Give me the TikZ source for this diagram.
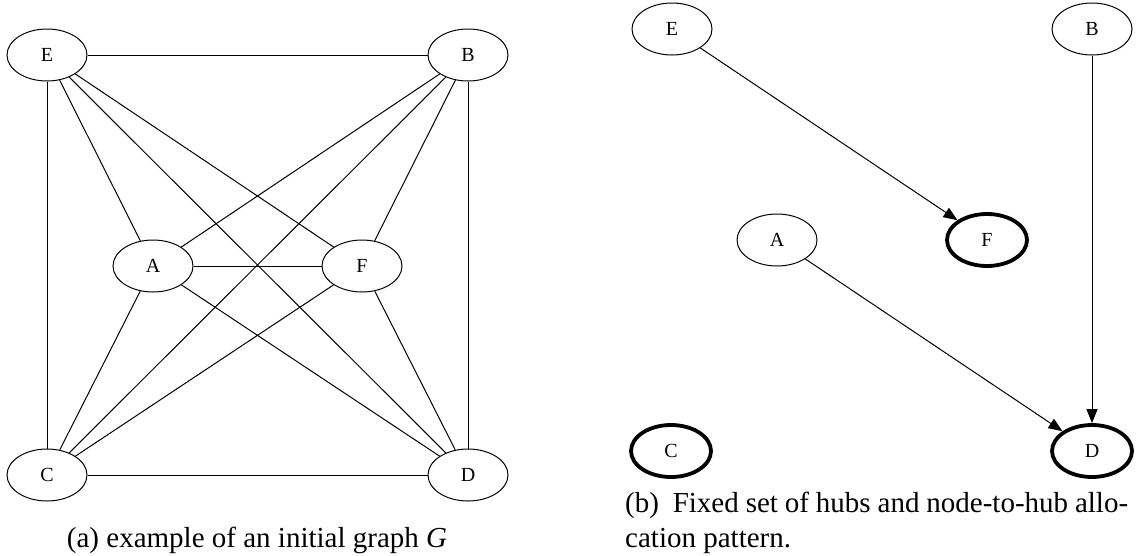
\documentclass[tikz,border=0pt]{standalone}
\usepackage{fontspec}
\setmainfont{Liberation Serif}
\usetikzlibrary{arrows.meta,shapes.geometric}
\begin{document}
\begin{tikzpicture}[x=1pt,y=-1pt,
  gnode/.style={ellipse,draw,line width=1pt,minimum width=80pt,minimum height=52pt,inner sep=0pt,font=\fontsize{20}{23}\selectfont},
  hub/.style={gnode,line width=3.8pt},
  edge/.style={line width=1pt},
  arc/.style={line width=1pt,-{Triangle[length=14pt,width=11pt]}},
  captext/.style={inner sep=0pt,font=\fontsize{29}{34}\selectfont}
]
\useasboundingbox (0,0) rectangle (1142,555);
% left graph
\node[gnode] (lE) at (47,55) {E};
\node[gnode] (lB) at (468,55) {B};
\node[gnode] (lA) at (153,266) {A};
\node[gnode] (lF) at (362,266) {F};
\node[gnode] (lC) at (47,475) {C};
\node[gnode] (lD) at (468,475) {D};
\foreach \a/\b in {lE/lB,lE/lC,lE/lA,lE/lF,lE/lD,lB/lD,lB/lA,lB/lF,lB/lC,lA/lF,lA/lC,lA/lD,lF/lC,lF/lD,lC/lD}
  \draw[edge] (\a) -- (\b);
% right graph
\node[gnode] (rE) at (672,29) {E};
\node[gnode] (rB) at (1092,29) {B};
\node[gnode] (rA) at (777,240) {A};
\node[hub] (rF) at (987,240) {F};
\node[hub] (rC) at (671,451) {C};
\node[hub] (rD) at (1092,451) {D};
\draw[arc] (rE) -- (rF);
\draw[arc] (rA) -- (rD);
\draw[arc] (rB) -- (rD);
% captions
\node[captext,anchor=base] (capA) at (257,547) {(a) example of an initial graph \textit{G}};
\node[captext,anchor=base west] (capB1) at (625,512) {\makebox[503pt][s]{(b) \ Fixed set of hubs and node-to-hub allo-}};
\node[captext,anchor=base west] (capB2) at (625,547) {cation pattern.};
\end{tikzpicture}
\end{document}
